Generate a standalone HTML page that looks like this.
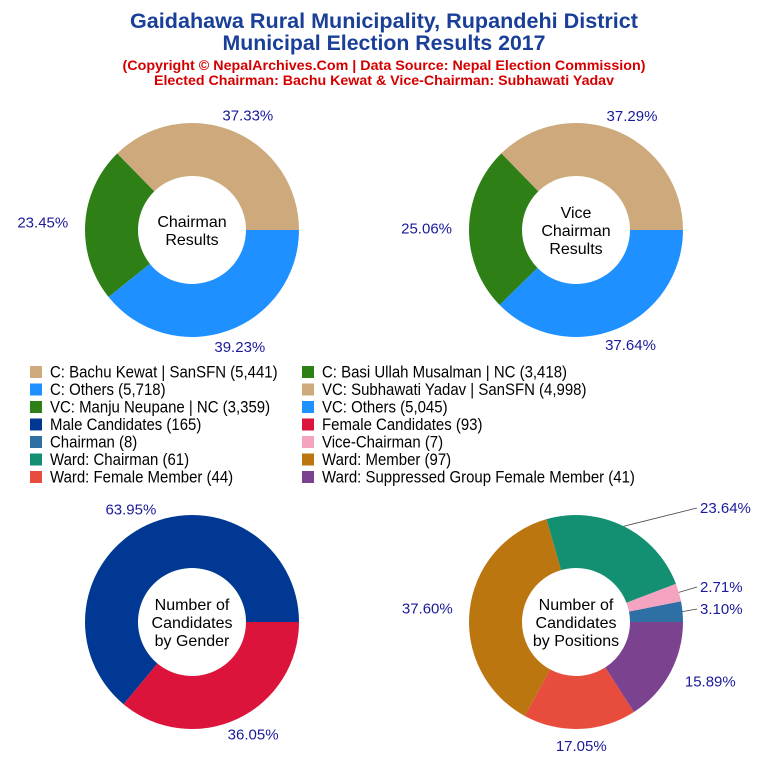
<!DOCTYPE html>
<html><head><meta charset="utf-8"><style>
body{margin:0;background:#fff}
svg{display:block;font-family:"Liberation Sans",Arial,sans-serif}
</style></head><body>
<svg id="chart" width="768" height="768" viewBox="0 0 768 768">
<text x="384" y="28" text-anchor="middle" font-size="21" font-weight="bold" fill="#1a3f98" textLength="508" lengthAdjust="spacingAndGlyphs">Gaidahawa Rural Municipality, Rupandehi District</text>
<text x="384" y="50" text-anchor="middle" font-size="21" font-weight="bold" fill="#1a3f98" textLength="323" lengthAdjust="spacingAndGlyphs">Municipal Election Results 2017</text>
<text x="384" y="70" text-anchor="middle" font-size="14" font-weight="bold" fill="#d40000" textLength="523" lengthAdjust="spacingAndGlyphs">(Copyright © NepalArchives.Com | Data Source: Nepal Election Commission)</text>
<text x="384" y="85" text-anchor="middle" font-size="14" font-weight="bold" fill="#d40000" textLength="460" lengthAdjust="spacingAndGlyphs">Elected Chairman: Bachu Kewat &amp; Vice-Chairman: Subhawati Yadav</text>
<g id="pies"></g>
<g id="legend"></g>
</svg>
<script>
const chairmanLabels=["C: Bachu Kewat | SanSFN","C: Basi Ullah Musalman | NC","C: Others"];
const chairmanValues=[5441,3418,5718];
const chairmanColors=["#cda97b","#2f7f17","#1e90ff"];
const viceLabels=["VC: Subhawati Yadav | SanSFN","VC: Manju Neupane | NC","VC: Others"];
const viceValues=[4998,3359,5045];
const genderLabels=["Male Candidates","Female Candidates"];
const genderValues=[165,93];
const genderColors=["#003893","#dc143c"];
const positionLabels=["Chairman","Vice-Chairman","Ward: Chairman","Ward: Member","Ward: Female Member","Ward: Suppressed Group Female Member"];
const positionValues=[8,7,61,97,44,41];
const positionColors=["#2e6fa4","#f4a3c0","#138f72","#bb7610","#e84c3d","#7b4290"];
const legendLeft=[["C: Bachu Kewat | SanSFN (5,441)","#cda97b"],["C: Others (5,718)","#1e90ff"],["VC: Manju Neupane | NC (3,359)","#2f7f17"],["Male Candidates (165)","#003893"],["Chairman (8)","#2e6fa4"],["Ward: Chairman (61)","#138f72"],["Ward: Female Member (44)","#e84c3d"]];
const legendRight=[["C: Basi Ullah Musalman | NC (3,418)","#2f7f17"],["VC: Subhawati Yadav | SanSFN (4,998)","#cda97b"],["VC: Others (5,045)","#1e90ff"],["Female Candidates (93)","#dc143c"],["Vice-Chairman (7)","#f4a3c0"],["Ward: Member (97)","#bb7610"],["Ward: Suppressed Group Female Member (41)","#7b4290"]];

const NS="http://www.w3.org/2000/svg";
const pies=document.getElementById('pies');
function mk(tag,attrs,parent){const e=document.createElementNS(NS,tag);for(const k in attrs)e.setAttribute(k,attrs[k]);parent.appendChild(e);return e;}
function pt(cx,cy,r,a){return [cx+r*Math.cos(a*Math.PI/180),cy-r*Math.sin(a*Math.PI/180)];}
function donut(name,cx,cy,values,colors,center,overrides){
  const R=107,r=54,tot=values.reduce((a,b)=>a+b,0);
  const g=mk('g',{},pies);
  
  
  let a=0;
  values.forEach((v,i)=>{
    const sw=v/tot*360,a2=a+sw,large=sw>180?1:0;
    const [x1,y1]=pt(cx,cy,R,a),[x2,y2]=pt(cx,cy,R,a2),[x3,y3]=pt(cx,cy,r,a2),[x4,y4]=pt(cx,cy,r,a);
    const p=mk('path',{d:`M${x1},${y1}A${R},${R} 0 ${large} 0 ${x2},${y2}L${x3},${y3}A${r},${r} 0 ${large} 1 ${x4},${y4}Z`,fill:colors[i]},g);
    
    
    const mid=a+sw/2,pct=(v/tot*100).toFixed(2)+'%';
    let lx,ly,anchor;
    if(overrides&&overrides[i]){[lx,ly]=overrides[i];anchor='start';
      const [ex,ey]=pt(cx,cy,R,mid);
      mk('line',{x1:ex,y1:ey,x2:lx-3,y2:ly-5,stroke:'#444','stroke-width':0.8},g);
    }else{
      [lx,ly]=pt(cx,cy,124,mid);const c=Math.cos(mid*Math.PI/180);
      anchor=c>0.45?'start':(c<-0.45?'end':'middle');ly+=5;
      if(anchor==='middle')lx+=c*20;
    }
    const t=mk('text',{x:lx,y:ly,'text-anchor':anchor,'font-size':15,fill:'#1a1a9a'},g);
    t.textContent=pct;
    
    
    a=a2;
  });
  const n=center.length,t0=cy-(n-1)*9+6;
  center.forEach((s,i)=>{const t=mk('text',{x:cx,y:t0+i*18,'text-anchor':'middle','font-size':16,fill:'#000'},g);t.textContent=s;
    
    });
}
donut('chairman-donut',192,230,chairmanValues,chairmanColors,["Chairman","Results"]);
donut('vice-chairman-donut',576,230,viceValues,chairmanColors,["Vice","Chairman","Results"]);
donut('gender-donut',192,622,genderValues,genderColors,["Number of","Candidates","by Gender"]);
donut('positions-donut',576,622,positionValues,positionColors,["Number of","Candidates","by Positions"],{0:[700,614],1:[700,592],2:[700,513]});

const lg=document.getElementById('legend');
function legendCol(items,x){items.forEach((it,i)=>{const y=372+i*17.5;
  const s=mk('rect',{x:x,y:y-6,width:12,height:12,fill:it[1]},lg);
  
  
  const t=mk('text',{x:x+20,y:y+5.5,'font-size':17,fill:'#000'},lg);t.textContent=it[0];
  
  
  const L=t.getComputedTextLength();
  t.setAttribute('textLength',L*0.88);
  t.setAttribute('lengthAdjust','spacingAndGlyphs');});}
legendCol(legendLeft,30);legendCol(legendRight,302);
</script>
</body></html>
